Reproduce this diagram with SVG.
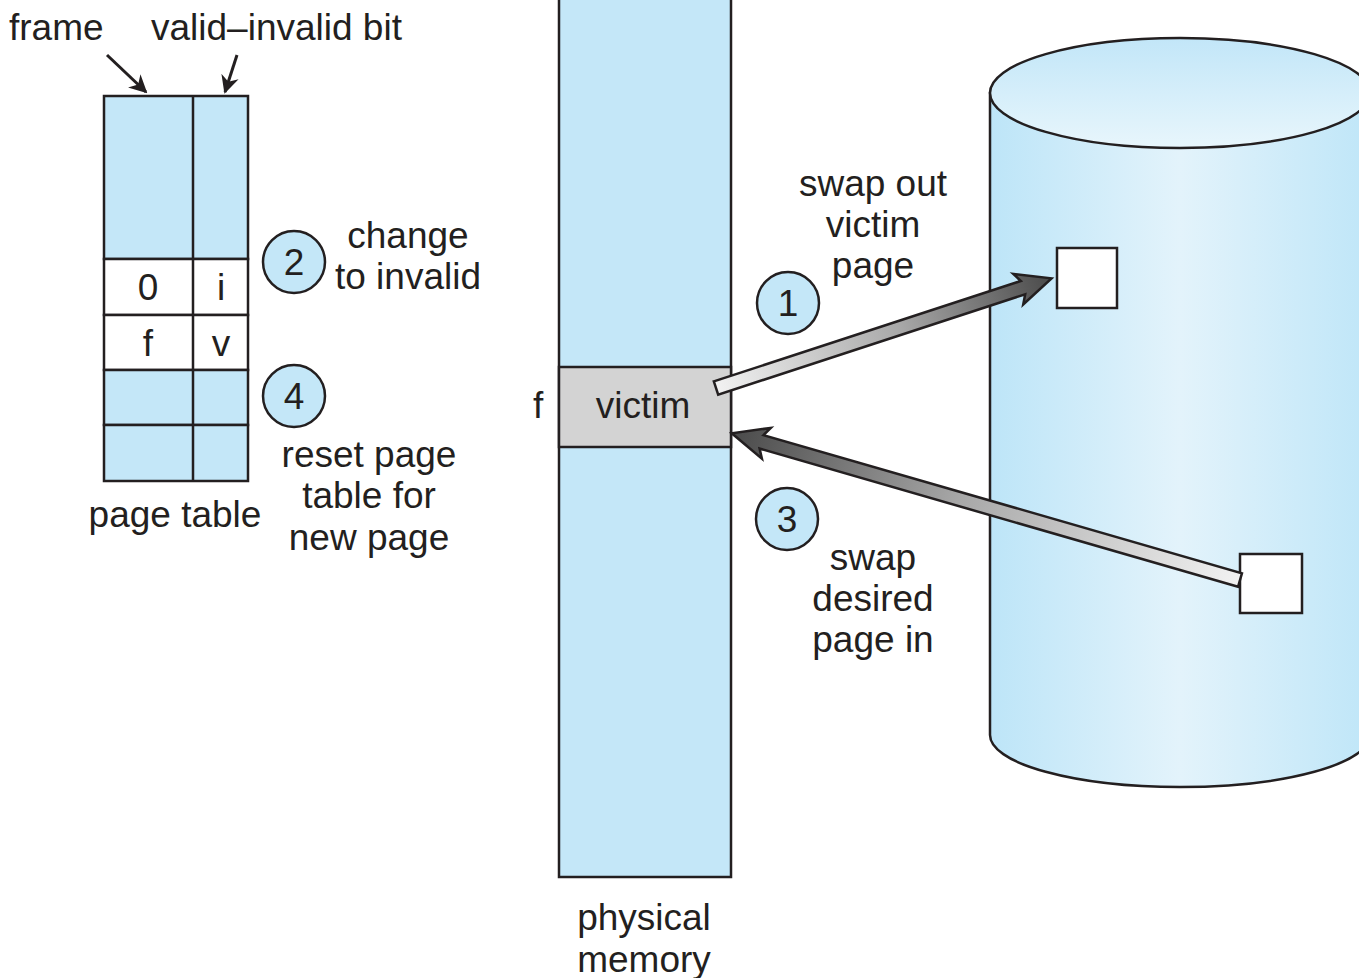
<svg xmlns="http://www.w3.org/2000/svg" width="1359" height="978" viewBox="0 0 1359 978">
<defs>
<style>
text{font-family:"Liberation Sans",Arial,sans-serif;font-size:37px;fill:#231f20;}
.c{text-anchor:middle;}
.blue{fill:#c4e7f8;stroke:#231f20;stroke-width:2.5;}
.white{fill:#fff;stroke:#231f20;stroke-width:2.5;}
.ln{stroke:#231f20;stroke-width:2.5;fill:none;}
.circ{fill:#c4e7f8;stroke:#231f20;stroke-width:2.5;}
.ptr{stroke:#231f20;stroke-width:3;fill:none;marker-end:url(#ah);}
.big{stroke:#231f20;stroke-width:2.5;stroke-linejoin:miter;}
</style>
<marker id="ah" viewBox="0 0 10 10" refX="9" refY="5" markerWidth="6" markerHeight="6" orient="auto" markerUnits="strokeWidth">
<path d="M0,0 L10,5 L0,10 L3,5 Z" fill="#231f20"/>
</marker>
<linearGradient id="shaft" x1="0" y1="0" x2="1" y2="0">
<stop offset="0" stop-color="#f2f2f2"/>
<stop offset="0.55" stop-color="#a8a8a8"/>
<stop offset="1" stop-color="#4a4a4a"/>
</linearGradient>
<linearGradient id="body" x1="0" y1="0" x2="1" y2="0">
<stop offset="0" stop-color="#bde5f8"/>
<stop offset="0.5" stop-color="#e3f3fb"/>
<stop offset="1" stop-color="#bfe6f8"/>
</linearGradient>
<linearGradient id="top" x1="0" y1="0" x2="0" y2="1">
<stop offset="0" stop-color="#c2e6f8"/>
<stop offset="1" stop-color="#e8f6fc"/>
</linearGradient>
</defs>
<rect width="1359" height="978" fill="#fff"/>

<g id="page-table">
<rect class="blue" x="104" y="96" width="144" height="163"/>
<rect class="white" x="104" y="259" width="144" height="56"/>
<rect class="white" x="104" y="315" width="144" height="55"/>
<rect class="blue" x="104" y="370" width="144" height="55"/>
<rect class="blue" x="104" y="425" width="144" height="56"/>
<line class="ln" x1="193" y1="96" x2="193" y2="481"/>
<text class="c" x="148" y="300">0</text>
<text class="c" x="221" y="300">i</text>
<text class="c" x="148" y="356">f</text>
<text class="c" x="221" y="356">v</text>
<text class="c" x="175" y="527">page table</text>
</g>

<g id="labels-top">
<text x="9" y="40">frame</text>
<text x="151" y="40">valid–invalid bit</text>
</g>

<g id="step2">
<circle class="circ" cx="294" cy="262" r="31"/>
<text class="c" x="294" y="275">2</text>
<text class="c" x="408" y="248">change</text>
<text class="c" x="408" y="289">to invalid</text>
</g>

<g id="step4">
<circle class="circ" cx="294" cy="396" r="31"/>
<text class="c" x="294" y="409">4</text>
<text class="c" x="369" y="467">reset page</text>
<text class="c" x="369" y="508">table for</text>
<text class="c" x="369" y="550">new page</text>
</g>

<g id="physical-memory">
<rect class="blue" x="559" y="-10" width="172" height="887"/>
<rect x="559" y="367" width="172" height="80" fill="#d3d3d3" stroke="#231f20" stroke-width="2.5"/>
<text class="c" x="643" y="418">victim</text>
<text x="533" y="418">f</text>
<text class="c" x="644" y="930">physical</text>
<text class="c" x="644" y="972">memory</text>
</g>

<g id="disk">
<path d="M990,93 L990,735 A190,52 0 0 0 1370,735 L1370,93 Z" fill="url(#body)" stroke="#231f20" stroke-width="2.5"/>
<ellipse cx="1180" cy="93" rx="190" ry="55" fill="url(#top)" stroke="#231f20" stroke-width="2.5"/>
<rect class="white" x="1057" y="248" width="60" height="60"/>
<rect class="white" x="1240" y="554" width="62" height="59"/>
</g>

<g id="step1">
<circle class="circ" cx="788" cy="303" r="31"/>
<text class="c" x="788" y="316">1</text>
<text class="c" x="873" y="196">swap out</text>
<text class="c" x="873" y="237">victim</text>
<text class="c" x="873" y="278">page</text>
</g>

<g id="step3">
<circle class="circ" cx="787" cy="519" r="31"/>
<text class="c" x="787" y="532">3</text>
<text class="c" x="873" y="570">swap</text>
<text class="c" x="873" y="611">desired</text>
<text class="c" x="873" y="652">page in</text>
</g>

<g id="connectors">
<line class="ptr" x1="107" y1="55" x2="146" y2="92"/>
<line class="ptr" x1="237" y1="55" x2="225" y2="92"/>
<g transform="translate(716,388) rotate(-18.1)">
<polygon class="big" fill="url(#shaft)" points="0,-7 323,-7 318,-16 353,0 318,16 323,7 0,7"/>
</g>
<g transform="translate(1240,580) rotate(-163.9)">
<polygon class="big" fill="url(#shaft)" points="0,-7 498,-7 493,-16 529,0 493,16 498,7 0,7"/>
</g>
</g>
</svg>
